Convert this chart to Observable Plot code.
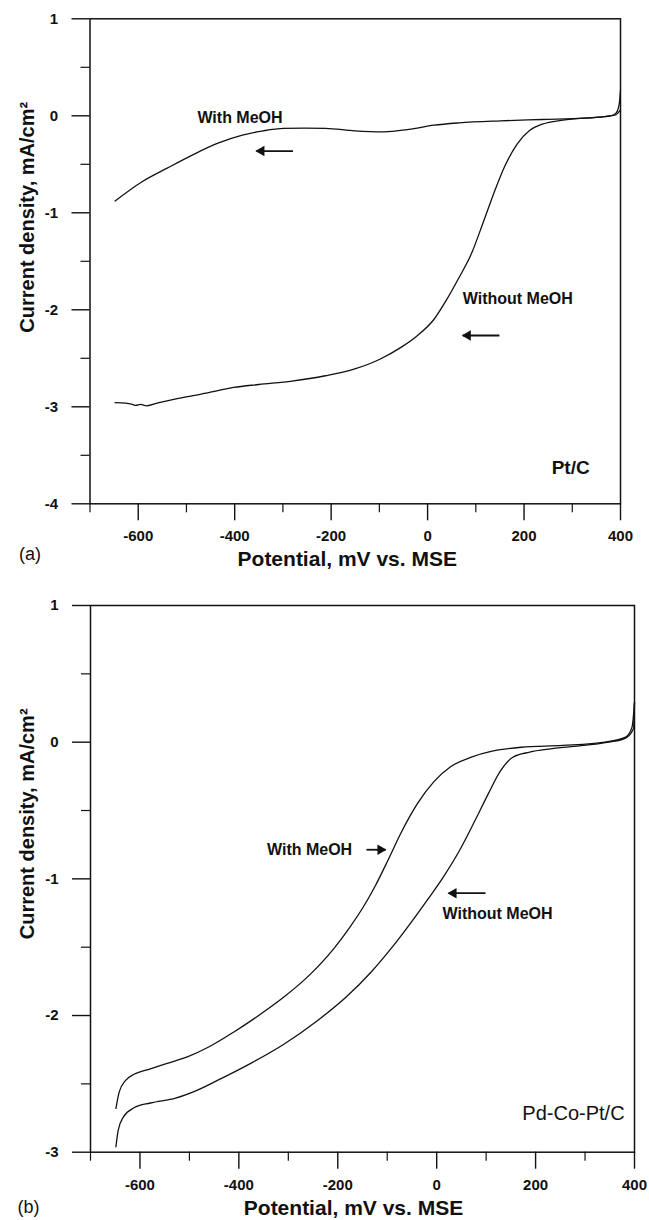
<!DOCTYPE html>
<html>
<head>
<meta charset="utf-8">
<script src="https://cdn.jsdelivr.net/npm/d3@7"></script>
<script src="https://cdn.jsdelivr.net/npm/@observablehq/plot@0.6"></script>
<style>
  body { margin: 0; background: #fff; }
  #chart svg { display: block; }
</style>
</head>
<body>
<div id="chart"></div>
<script>
// ---------------- Data (potential in mV vs. MSE, current density in mA/cm²) ----------------
// Panel (a): Pt/C
const potA_with = [-648, -592, -540, -488, -436, -384, -341, -298, -255, -212, -151, -91, -39, 13, 65, 151, 237, 324, 367, 390, 400];
const curA_with = [-0.878, -0.68, -0.54, -0.405, -0.285, -0.20, -0.155, -0.13, -0.128, -0.13, -0.155, -0.165, -0.14, -0.097, -0.073, -0.052, -0.038, -0.025, -0.008, 0.01, 0.06];
const potA_wo = [-648, -626, -612, -605, -595, -583, -557, -497, -454, -402, -350, -281, -212, -151, -99, -56, -22, 13, 39, 65, 91, 116, 138, 160, 186, 212, 238, 281, 341, 376, 390, 397, 400];
const curA_wo = [-2.957, -2.962, -2.975, -2.985, -2.975, -2.99, -2.957, -2.895, -2.855, -2.80, -2.77, -2.735, -2.68, -2.61, -2.51, -2.39, -2.27, -2.10, -1.90, -1.67, -1.42, -1.09, -0.79, -0.52, -0.29, -0.15, -0.086, -0.045, -0.018, -0.004, 0.025, 0.11, 0.26];

// Panel (b): Pd-Co-Pt/C
const potB_with = [-648.6, -642, -629, -612, -579, -545, -503, -461, -410, -360, -309, -259, -208, -174, -150, -124, -98, -73, -39, -6, 28, 70, 112, 171, 255, 340, 382, 395, 400];
const curB_with = [-2.68, -2.56, -2.475, -2.43, -2.39, -2.35, -2.30, -2.23, -2.12, -2.00, -1.865, -1.71, -1.51, -1.345, -1.215, -1.05, -0.86, -0.67, -0.45, -0.29, -0.18, -0.11, -0.066, -0.037, -0.024, 0.0, 0.037, 0.11, 0.29];
const potB_wo = [-648.6, -644, -633, -612, -579, -528, -486, -435, -376, -309, -242, -183, -132, -90, -52, -18, 11, 45, 78, 104, 129, 154, 188, 230, 297, 348, 382, 398, 400];
const curB_wo = [-2.96, -2.84, -2.74, -2.675, -2.64, -2.605, -2.55, -2.46, -2.35, -2.21, -2.04, -1.865, -1.68, -1.50, -1.32, -1.15, -1.0, -0.80, -0.57, -0.38, -0.21, -0.11, -0.073, -0.049, -0.024, 0.0, 0.03, 0.10, 0.29];

// Axis ticks
const xMajor = [-600, -400, -200, 0, 200, 400];
const xMinor = [-700, -500, -300, -100, 100, 300];
const yMajorA = [1, 0, -1, -2, -3, -4];
const yMinorA = [0.5, -0.5, -1.5, -2.5, -3.5];
const yMajorB = [1, 0, -1, -2, -3];
const yMinorB = [0.5, -0.5, -1.5, -2.5];

// Annotations (data coordinates)
const labelTextA = ["With MeOH", "Without MeOH"];
const labelXA = [-389, 187];
const labelYA = [-0.02, -1.885];
const arrowTipXA = [-355, 73];
const arrowTailXA = [-279, 149];
const arrowYA = [-0.364, -2.265];
const arrowDirA = ["left", "left"];

const labelTextB = ["With MeOH", "Without MeOH"];
const labelXB = [-257, 123];
const labelYB = [-0.787, -1.257];
const arrowTipXB = [-103.5, 24];
const arrowTailXB = [-142, 98.7];
const arrowYB = [-0.787, -1.105];
const arrowDirB = ["right", "left"];

const catalystA = {name: "Pt/C", x: 336, y: -3.625};
const catalystB = {name: "Pd-Co-Pt/C", x: 380, y: -2.716};

const xTitle = "Potential, mV vs. MSE";
const yTitle = "Current density, mA/cm\u00B2";

// ---------------- Drawing ----------------
const FONT = "'Liberation Sans', Arial, Helvetica, sans-serif";
const toRows = (ps, cs) => ps.map((p, i) => ({p, c: cs[i]}));

function panel(o) {
  const curves = o.curves.map(([ps, cs]) => toRows(ps, cs));
  const labels = o.labelText.map((t, i) => ({t, x: o.labelX[i], y: o.labelY[i]}));
  const arrows = o.arrowTipX.map((tx, i) => ({tx, sx: o.arrowTailX[i], y: o.arrowY[i], dir: o.arrowDir[i]}));
  const marks = [
    Plot.frame({stroke: "#111", strokeWidth: 1.5}),
    Plot.axisX({ticks: xMajor, tickSize: 17, tickPadding: 10, tickFormat: d => String(d), label: null,
      fontWeight: "bold", fontSize: 15, stroke: "#111", strokeWidth: 1.4}),
    Plot.axisX({ticks: xMinor, tickSize: 9, tickFormat: () => "", label: null, stroke: "#111", strokeWidth: 1.2}),
    Plot.axisY({ticks: o.yMajor, tickSize: 18, tickPadding: 14, tickFormat: d => String(d), label: null,
      fontWeight: "bold", fontSize: 15, stroke: "#111", strokeWidth: 1.4}),
    Plot.axisY({ticks: o.yMinor, tickSize: 9, tickFormat: () => "", label: null, stroke: "#111", strokeWidth: 1.2}),
    ...curves.map(rows => Plot.line(rows, {x: "p", y: "c", curve: "monotone-x", stroke: "#111", strokeWidth: 1.3})),
    Plot.text(labels, {x: "x", y: "y", text: "t", fontWeight: "bold", fontSize: 16, fill: "#111"}),
    Plot.link(arrows, {x1: "sx", x2: "tx", y1: "y", y2: "y", stroke: "#111", strokeWidth: 1.8}),
    Plot.dot(arrows.filter(a => a.dir === "left"), {x: "tx", y: "y", symbol: "triangle", r: 3.9, rotate: -90, dx: 5, fill: "#111", stroke: "none"}),
    Plot.dot(arrows.filter(a => a.dir === "right"), {x: "tx", y: "y", symbol: "triangle", r: 3.9, rotate: 90, dx: -5, fill: "#111", stroke: "none"}),
    Plot.text([o.catalyst], {x: "x", y: "y", text: "name", textAnchor: "end", fontSize: o.catalystSize, fontWeight: o.catalystWeight, fill: "#111"}),
    Plot.text([xTitle], {frameAnchor: "bottom", textAnchor: "middle", lineAnchor: "middle", dx: o.xTitleDx, dy: o.xTitleDy, fontWeight: "bold", fontSize: 21, fill: "#111"}),
    Plot.text([yTitle], {frameAnchor: "left", textAnchor: "middle", rotate: -90, lineAnchor: "middle", dx: -62.5, dy: o.yTitleDy, fontWeight: "bold", fontSize: 20, fill: "#111"}),
    Plot.text([o.tag], {frameAnchor: "bottom-left", textAnchor: "start", lineAnchor: "middle", dx: o.tagDx, dy: o.tagDy, fontSize: 18, fill: "#111"})
  ];
  return Plot.plot({
    width: 649,
    height: o.height,
    marginTop: o.mt,
    marginBottom: o.mb,
    marginLeft: o.ml,
    marginRight: o.mr,
    style: {fontFamily: FONT, color: "#111", background: "#fff", overflow: "visible"},
    x: {domain: [-700, 400]},
    y: {domain: o.yDomain},
    marks
  });
}

const svgA = panel({
  height: 580, mt: 18.3, mb: 76.7, ml: 89.5, mr: 29,
  yDomain: [-4, 1], yMajor: yMajorA, yMinor: yMinorA,
  curves: [[potA_with, curA_with], [potA_wo, curA_wo]],
  labelText: labelTextA, labelX: labelXA, labelY: labelYA,
  arrowTipX: arrowTipXA, arrowTailX: arrowTailXA, arrowY: arrowYA, arrowDir: arrowDirA,
  catalyst: catalystA, catalystSize: 19, catalystWeight: "bold",
  xTitleDx: -8, xTitleDy: 55, yTitleDy: -44, tag: "(a)", tagDx: -71, tagDy: 50
});
const svgB = panel({
  height: 640, mt: 25, mb: 68.3, ml: 90, mr: 15,
  yDomain: [-3, 1], yMajor: yMajorB, yMinor: yMinorB,
  curves: [[potB_with, curB_with], [potB_wo, curB_wo]],
  labelText: labelTextB, labelX: labelXB, labelY: labelYB,
  arrowTipX: arrowTipXB, arrowTailX: arrowTailXB, arrowY: arrowYB, arrowDir: arrowDirB,
  catalyst: catalystB, catalystSize: 20, catalystWeight: "normal",
  xTitleDx: -9, xTitleDy: 56.5, yTitleDy: -55, tag: "(b)", tagDx: -73, tagDy: 55
});
document.getElementById("chart").append(svgA, svgB);
</script>
</body>
</html>
